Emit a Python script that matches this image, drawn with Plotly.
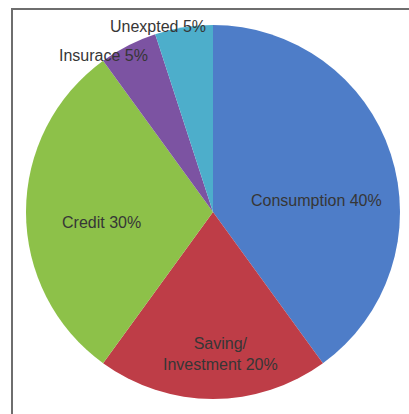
import plotly.graph_objects as go

labels = ["Consumption", "Saving/<br>Investment", "Credit", "Insurace", "Unexpted"]
values = [40, 20, 30, 5, 5]
colors = ["#4E7DC8", "#BE3D47", "#8DC149", "#7C53A2", "#4DAECB"]
# label anchor positions (paper coords) for the slice labels
label_x = [316 / 409, 220 / 409, 101 / 409, 103 / 409, 158 / 409]
label_y = [1 - 201 / 414, 1 - 354 / 414, 1 - 222 / 414, 1 - 55 / 414, 1 - 27 / 414]

W, H = 409, 414
cx, cy, r = 213, 212, 187

fig = go.Figure(go.Pie(
    labels=labels,
    values=values,
    marker=dict(colors=colors, line=dict(width=0)),
    sort=False,
    direction="clockwise",
    rotation=0,
    textinfo="none",
    hoverinfo="label+percent",
    showlegend=False,
    domain=dict(x=[(cx - r) / W, (cx + r) / W], y=[1 - (cy + r) / H, 1 - (cy - r) / H]),
))

for lab, v, x, y in zip(labels, values, label_x, label_y):
    fig.add_annotation(
        x=x, y=y, xref="paper", yref="paper",
        text=f"{lab} {v}%", showarrow=False,
        font=dict(family="Liberation Sans, Arial, sans-serif", size=16, color="#363636"),
        xanchor="center", yanchor="middle", align="center",
    )

fig.add_shape(type="rect", xref="paper", yref="paper",
              x0=12 / W, x1=1.05, y0=-0.05, y1=1 - 9 / H,
              line=dict(color="#6e6e6e", width=2), layer="above")

fig.update_layout(
    width=W, height=H,
    margin=dict(l=0, r=0, t=0, b=0),
    paper_bgcolor="white", plot_bgcolor="white",
)

fig.write_html(
    "out.html",
    config={"displayModeBar": False},
    post_script="document.body.style.margin='0';document.body.style.padding='0';document.body.style.overflow='hidden';",
)
